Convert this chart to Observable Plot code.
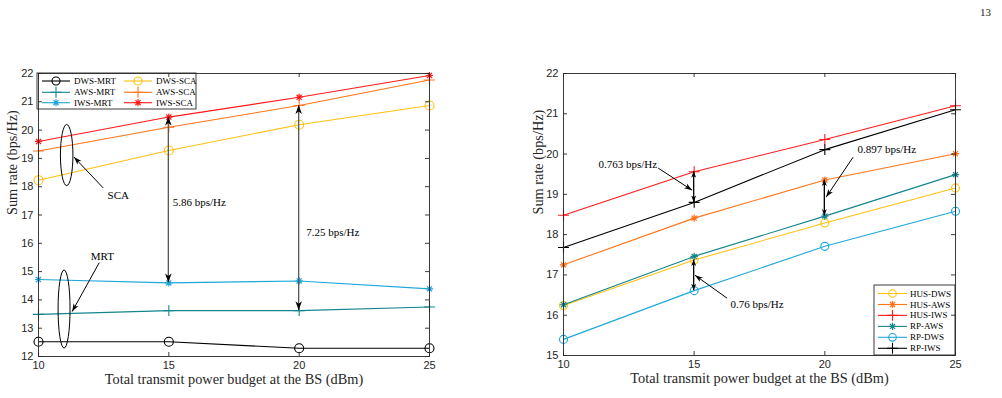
<!DOCTYPE html>
<html>
<head>
<meta charset="utf-8">
<script src="https://cdn.jsdelivr.net/npm/d3@7"></script>
<script src="https://cdn.jsdelivr.net/npm/@observablehq/plot@0.6"></script>
<style>
  body { margin: 0; background: #fff; }
  #page { position: relative; width: 1002px; height: 398px; overflow: hidden; background: #fff; }
  #page .panel { position: absolute; top: 0; }
  #pageno { position: absolute; left: 980px; top: 6px; font: 11px "Liberation Serif", "DejaVu Serif", serif; color: #222; }
</style>
</head>
<body>
<div id="page"><div id="pageno">13</div></div>
<script>
// ---- data -------------------------------------------------------------
const powers = [10, 15, 20, 25];               // dBm
const xTicks = [10, 15, 20, 25];
const yTicksLeft = [12, 13, 14, 15, 16, 17, 18, 19, 20, 21, 22];
const yTicksRight = [15, 16, 17, 18, 19, 20, 21, 22];

// left panel: MRT vs SCA sum rates (bps/Hz)
const dwsMrt = [12.52, 12.52, 12.29, 12.29];
const awsMrt = [13.49, 13.62, 13.62, 13.75];
const iwsMrt = [14.72, 14.60, 14.67, 14.39];
const dwsSca = [18.23, 19.28, 20.19, 20.87];
const awsSca = [19.26, 20.10, 20.87, 21.77];
const iwsSca = [19.60, 20.46, 21.16, 21.93];

// right panel: HUS vs RP sum rates (bps/Hz)
const husDws = [16.24, 17.37, 18.29, 19.16];
const husAws = [17.25, 18.41, 19.357, 20.01];
const husIws = [18.48, 19.563, 20.36, 21.20];
const rpAws  = [16.26, 17.46, 18.46, 19.49];
const rpDws  = [15.40, 16.61, 17.71, 18.58];
const rpIws  = [17.68, 18.80, 20.11, 21.10];

// gap annotations: x position, lower and upper curve value, text
const leftGaps = [
  {x: 15, lo: iwsMrt[1], hi: iwsSca[1], text: "5.86 bps/Hz"},
  {x: 20, lo: awsMrt[2], hi: awsSca[2], text: "7.25 bps/Hz"}
];
const rightGaps = [
  {x: 15, lo: rpIws[1], hi: husIws[1], text: "0.763 bps/Hz"},
  {x: 20, lo: rpAws[2], hi: husAws[2], text: "0.897 bps/Hz"},
  {x: 15, lo: rpDws[1], hi: husDws[1], text: "0.76 bps/Hz"}
];

// ---- styling ----------------------------------------------------------
const SERIF = '"Liberation Serif", "DejaVu Serif", serif';
const SANS = '"Liberation Sans", Arial, sans-serif';
const INK = "#262626";
const C = {
  black: "#000000", teal: "#12858d", sky: "#1ea7da",
  yellow: "#ffc010", orange: "#ff7417", red: "#ff1a1a"
};

// eight-spoke star marker (a plus overlaid with a cross)
const star8 = {
  draw(ctx, size) {
    const r = Math.sqrt(size / Math.PI), d = r * Math.SQRT1_2;
    ctx.moveTo(-r, 0); ctx.lineTo(r, 0);
    ctx.moveTo(0, -r); ctx.lineTo(0, r);
    ctx.moveTo(-d, -d); ctx.lineTo(d, d);
    ctx.moveTo(-d, d); ctx.lineTo(d, -d);
  }
};
const markerShapes = {circle: d3.symbolCircle, plus: d3.symbolPlus, asterisk: star8};

const leftSeries = [
  {name: "DWS-MRT", values: dwsMrt, color: C.black,  symbol: "circle"},
  {name: "AWS-MRT", values: awsMrt, color: C.teal,   symbol: "plus"},
  {name: "IWS-MRT", values: iwsMrt, color: C.sky,    symbol: "asterisk"},
  {name: "DWS-SCA", values: dwsSca, color: C.yellow, symbol: "circle"},
  {name: "AWS-SCA", values: awsSca, color: C.orange, symbol: "plus"},
  {name: "IWS-SCA", values: iwsSca, color: C.red,    symbol: "asterisk"}
];
const rightSeries = [
  {name: "HUS-DWS", values: husDws, color: C.yellow, symbol: "circle"},
  {name: "HUS-AWS", values: husAws, color: C.orange, symbol: "asterisk"},
  {name: "HUS-IWS", values: husIws, color: C.red,    symbol: "plus"},
  {name: "RP-AWS",  values: rpAws,  color: C.teal,   symbol: "asterisk"},
  {name: "RP-DWS",  values: rpDws,  color: C.sky,    symbol: "circle"},
  {name: "RP-IWS",  values: rpIws,  color: C.black,  symbol: "plus"}
];

const markerR = (s, rc) => s.symbol === "circle" ? rc : 3.6;
const markerW = s => s.symbol === "asterisk" ? 1.2 : 1.1;

// ---- helpers ----------------------------------------------------------
function rowsOf(s) {
  return powers.map((p, i) => ({x: p, y: s.values[i]}));
}

function seriesMarks(series, rc) {
  return series.flatMap(s => [
    Plot.line(rowsOf(s), {x: "x", y: "y", stroke: s.color, strokeWidth: 1.1}),
    Plot.dot(rowsOf(s), {x: "x", y: "y", symbol: markerShapes[s.symbol], stroke: s.color, fill: "none",
      r: markerR(s, rc), strokeWidth: markerW(s)})
  ]);
}

function frameMarks(yTicks, dims) {
  const iw = dims.width - dims.marginLeft - dims.marginRight;
  const ih = dims.height - dims.marginTop - dims.marginBottom;
  const T = 4;
  return [
    Plot.frame({stroke: INK, strokeWidth: 0.9}),
    Plot.ruleX(xTicks, {x: d => d, insetTop: ih - T, stroke: INK, strokeWidth: 0.9}),
    Plot.ruleX(xTicks, {x: d => d, insetBottom: ih - T, stroke: INK, strokeWidth: 0.9}),
    Plot.ruleY(yTicks, {y: d => d, insetRight: iw - T, stroke: INK, strokeWidth: 0.9}),
    Plot.ruleY(yTicks, {y: d => d, insetLeft: iw - T, stroke: INK, strokeWidth: 0.9}),
    Plot.axisX(xTicks, {tickSize: 0, tickPadding: 5, fontFamily: SANS, fontSize: 11, fill: INK, label: null}),
    Plot.axisY(yTicks, {tickSize: 0, tickPadding: 5, fontFamily: SANS, fontSize: 11, fill: INK, label: null}),
    Plot.text(["Total transmit power budget at the BS (dBm)"], {frameAnchor: "bottom", dy: 27,
      fontFamily: SERIF, fontSize: 14.3, fill: INK}),
    Plot.text(["Sum rate (bps/Hz)"], {frameAnchor: "left", rotate: -90, dx: dims.ylabelDx,
      fontFamily: SERIF, fontSize: 14.3, fill: INK})
  ];
}

// filled arrow head with a swept-back notch, tip at (x2, y2)
function arrowHead(g, x1, y1, x2, y2, len, wid) {
  const a = Math.atan2(y2 - y1, x2 - x1);
  const ux = Math.cos(a), uy = Math.sin(a), px = -uy, py = ux;
  const bx = x2 - ux * len, by = y2 - uy * len;
  const nx = x2 - ux * len * 0.72, ny = y2 - uy * len * 0.72;
  g.append("path")
    .attr("d", `M${x2},${y2}L${bx + px * wid / 2},${by + py * wid / 2}L${nx},${ny}L${bx - px * wid / 2},${by - py * wid / 2}Z`)
    .attr("fill", "#000");
}

// annotations drawn through the plot's own scales
function annotationMark(opts) {
  return (index, scales) => {
    const {x, y} = scales;
    const g = d3.create("svg:g");
    for (const e of opts.ellipses || []) {
      g.append("ellipse")
        .attr("cx", x(e.cx)).attr("cy", y(e.cy))
        .attr("rx", Math.abs(x(e.cx + e.rx) - x(e.cx)))
        .attr("ry", Math.abs(y(e.cy + e.ry) - y(e.cy)))
        .attr("fill", "none").attr("stroke", "#000").attr("stroke-width", 1);
    }
    for (const gap of opts.gaps) {
      const X = x(gap.x), Y1 = y(gap.lo), Y2 = y(gap.hi);
      g.append("line").attr("x1", X).attr("x2", X).attr("y1", Y1).attr("y2", Y2)
        .attr("stroke", opts.shaft).attr("stroke-width", 1.3);
      arrowHead(g, X, Y1, X, Y2, opts.headLen, opts.headWid);
      arrowHead(g, X, Y2, X, Y1, opts.headLen, opts.headWid);
    }
    for (const p of opts.pointers || []) {
      const X1 = x(p.x1), Y1 = y(p.y1), X2 = x(p.x2), Y2 = y(p.y2);
      g.append("line").attr("x1", X1).attr("y1", Y1).attr("x2", X2).attr("y2", Y2)
        .attr("stroke", "#000").attr("stroke-width", 1);
      arrowHead(g, X1, Y1, X2, Y2, 8, 5.5);
    }
    return g.node();
  };
}

// boxed legend inside the frame
function legendMark(series, L) {
  return (index, scales, values, dims) => {
    const ox = dims.marginLeft, oy = dims.marginTop;
    const g = d3.create("svg:g").attr("transform", `translate(${ox},${oy})`);
    g.append("rect").attr("x", L.x).attr("y", L.y).attr("width", L.w).attr("height", L.h)
      .attr("fill", "#fff").attr("stroke", INK).attr("stroke-width", 0.9);
    series.forEach((s, i) => {
      const col = Math.floor(i / L.rows), row = i % L.rows;
      const cx = L.x + L.colX[col], cy = L.y + L.rowY[row];
      g.append("line").attr("x1", cx + L.line[0]).attr("x2", cx + L.line[1])
        .attr("y1", cy).attr("y2", cy).attr("stroke", s.color).attr("stroke-width", 1.1);
      const r = markerR(s, L.r);
      g.append("path").attr("d", d3.symbol(markerShapes[s.symbol], Math.PI * r * r)())
        .attr("transform", `translate(${cx + L.marker},${cy})`)
        .attr("fill", "none").attr("stroke", s.color)
        .attr("stroke-width", markerW(s));
      g.append("text").attr("x", cx + L.text).attr("y", cy).attr("dy", "0.34em")
        .attr("text-anchor", "start")
        .attr("font-family", SERIF).attr("font-size", L.fontSize).attr("fill", "#000")
        .text(s.name);
    });
    return g.node();
  };
}

const noteStyle = {textAnchor: "start", fontFamily: SERIF, fontSize: 11, fill: "#000"};

// ---- left panel -------------------------------------------------------
const leftDims = {width: 470, height: 398, marginLeft: 38, marginRight: 41, marginTop: 73, marginBottom: 42, ylabelDx: -26};
const leftPlot = Plot.plot({
  ...leftDims,
  x: {domain: [10, 25]},
  y: {domain: [12, 22]},
  style: {background: "transparent", overflow: "visible"},
  marks: [
    ...seriesMarks(leftSeries, 4.5),
    annotationMark({
      ellipses: [
        {cx: 11.1, cy: 19.1, rx: 0.24, ry: 1.08},
        {cx: 11.0, cy: 13.66, rx: 0.23, ry: 1.38}
      ],
      gaps: leftGaps, shaft: "#555", headLen: 9, headWid: 6.5,
      pointers: [
        {x1: 12.5, y1: 17.94, x2: 11.38, y2: 19.03},
        {x1: 12.35, y1: 15.3, x2: 11.31, y2: 13.57}
      ]
    }),
    Plot.text([leftGaps[0]], {x: () => 15.15, y: () => 17.44, text: "text", ...noteStyle}),
    Plot.text([leftGaps[1]], {x: () => 20.27, y: () => 16.38, text: "text", ...noteStyle}),
    Plot.text(["SCA"], {x: () => 13.06, y: () => 17.69, text: d => d, ...noteStyle, textAnchor: "middle"}),
    Plot.text(["MRT"], {x: () => 12.45, y: () => 15.53, text: d => d, ...noteStyle, textAnchor: "middle"}),
    legendMark(leftSeries, {x: -1, y: 0, w: 159, h: 36, rows: 3,
      rowY: [8, 19.3, 29.7], colX: [0, 82], line: [5, 33], marker: 19, text: 37, r: 4, fontSize: 9}),
    ...frameMarks(yTicksLeft, leftDims)
  ]
});

// ---- right panel ------------------------------------------------------
const rightDims = {width: 502, height: 398, marginLeft: 63, marginRight: 47, marginTop: 73, marginBottom: 43, ylabelDx: -25};
const rightPlot = Plot.plot({
  ...rightDims,
  x: {domain: [10, 25]},
  y: {domain: [15, 22]},
  style: {background: "transparent", overflow: "visible"},
  marks: [
    ...seriesMarks(rightSeries, 4),
    annotationMark({
      gaps: rightGaps, shaft: "#000", headLen: 6.5, headWid: 5,
      pointers: [
        {x1: 13.64, y1: 19.64, x2: 14.94, y2: 19.09},
        {x1: 21.10, y1: 19.91, x2: 20.07, y2: 18.92},
        {x1: 16.28, y1: 16.41, x2: 15.05, y2: 16.98}
      ]
    }),
    Plot.text([rightGaps[0]], {x: () => 11.34, y: () => 19.73, text: "text", ...noteStyle}),
    Plot.text([rightGaps[1]], {x: () => 21.25, y: () => 20.11, text: "text", ...noteStyle}),
    Plot.text([rightGaps[2]], {x: () => 16.39, y: () => 16.26, text: "text", ...noteStyle}),
    legendMark(rightSeries, {x: 311, y: 212, w: 81, h: 70, rows: 6,
      rowY: [8.5, 19.5, 30.4, 41.4, 52.3, 63.3], colX: [0], line: [4, 33], marker: 18.5, text: 36, r: 3.8, fontSize: 9}),
    ...frameMarks(yTicksRight, rightDims)
  ]
});

const page = document.getElementById("page");
leftPlot.classList.add("panel");
leftPlot.style.left = "0px";
rightPlot.classList.add("panel");
rightPlot.style.left = "500px";
page.appendChild(leftPlot);
page.appendChild(rightPlot);
</script>
</body>
</html>
